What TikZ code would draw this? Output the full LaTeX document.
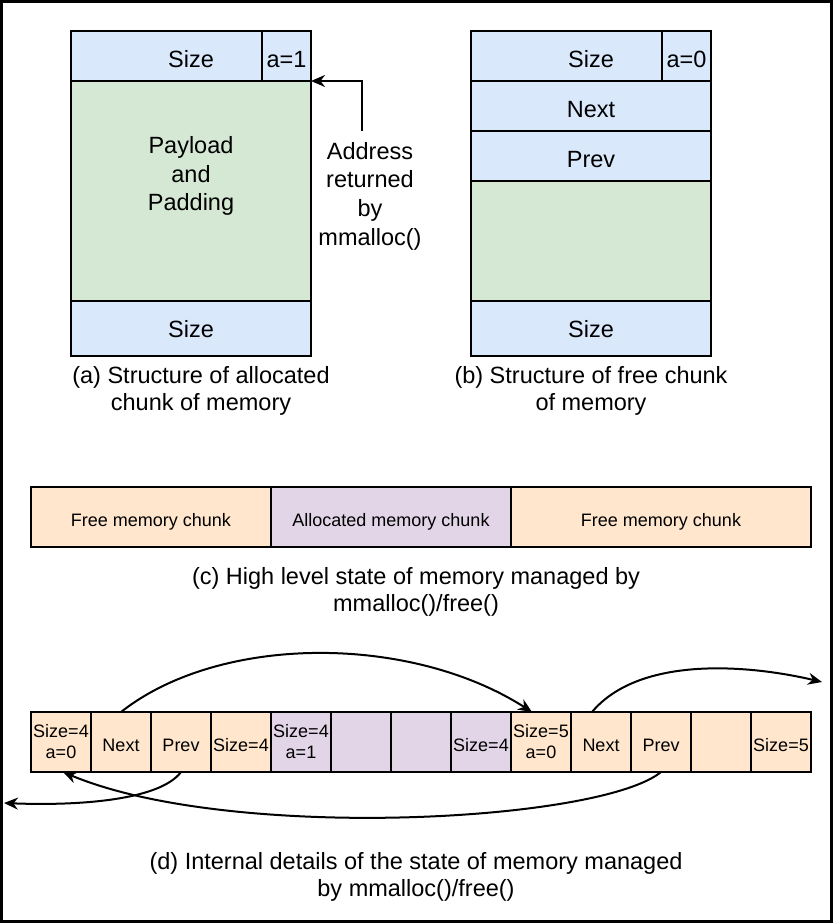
\documentclass[tikz,border=0pt]{standalone}
\usepackage{fontspec}
\setmainfont{Liberation Sans}
\usetikzlibrary{arrows.meta, positioning}
\definecolor{hdrblue}{HTML}{DAE8FC}
\definecolor{paygreen}{HTML}{D5E8D4}
\definecolor{freeorange}{HTML}{FFE6CC}
\definecolor{usedpurple}{HTML}{E1D5E7}

\begin{document}
\begin{tikzpicture}[x=1pt, y=1pt, >={Stealth[length=14pt,width=12pt]}, line width=2pt,
  box/.style={draw, line width=2.6pt, outer sep=0pt, inner sep=0pt, minimum width=240pt, minimum height=50pt, text height=23pt, text depth=0pt, font=\fontsize{23.5}{28.7}\selectfont},
  flag/.style={box, minimum width=49pt, anchor=north east},
  footbox/.style={box, minimum height=55pt, text height=18pt},
  chunk/.style={draw, line width=2.6pt, outer sep=0pt, inner sep=0pt, minimum height=60pt, text height=19pt, text depth=0pt, font=\fontsize{18}{21}\selectfont},
  cell/.style={chunk, minimum width=60pt},
  twoline/.style={cell, align=center, text height=, text depth=},
  caption/.style={align=center, inner sep=0pt, font=\fontsize{23.5}{27}\selectfont}]
  \useasboundingbox (0,0) rectangle (833,-923);
  \draw[line width=3pt] (1.5,-1.5) rectangle (831.5,-921.5);

% (a) allocated chunk
  \node[box, fill=hdrblue] (asize) at (191,-56) {Size};
  \node[flag, fill=hdrblue] (aflag) at (asize.north east) {a=1};
  \node[box, fill=paygreen, minimum height=220pt, below=0pt of asize] (apay) {};
  \node[footbox, fill=hdrblue, below=0pt of apay] (afoot) {Size};
  \node[caption, font=\fontsize{23.5}{28.7}\selectfont] (apaytext) at (191,-176) {Payload\\and\\Padding};
  \node[caption, font=\fontsize{23.5}{28.7}\selectfont] (addr) at (370,-196) {Address\\returned\\by\\mmalloc()};
  \coordinate (addrtop) at (361.5,-131);
  \node[caption] (acap) at (201,-391) {(a) Structure of allocated\\chunk of memory};

% (b) free chunk
  \node[box, fill=hdrblue] (bsize) at (591,-56) {Size};
  \node[flag, fill=hdrblue] (bflag) at (bsize.north east) {a=0};
  \node[box, fill=hdrblue, below=0pt of bsize] (bnext) {Next};
  \node[box, fill=hdrblue, below=0pt of bnext] (bprev) {Prev};
  \node[box, fill=paygreen, minimum height=120pt, below=0pt of bprev] (bpay) {};
  \node[footbox, fill=hdrblue, below=0pt of bpay] (bfoot) {Size};
  \node[caption] (bcap) at (591,-391) {(b) Structure of free chunk\\of memory};

  \draw[->] (addrtop) |- (apay.north east);

% (c) high level state
  \node[chunk, fill=freeorange, minimum width=240pt, anchor=west] (cfree1) at (31,-517) {Free memory chunk};
  \node[chunk, fill=usedpurple, minimum width=240pt, right=0pt of cfree1] (cused) {Allocated memory chunk};
  \node[chunk, fill=freeorange, minimum width=300pt, right=0pt of cused] (cfree2) {Free memory chunk};
  \node[caption] (ccap) at (416,-592) {(c) High level state of memory managed by\\mmalloc()/free()};

% (d) internal details
  \node[twoline, fill=freeorange] (hdra) at (61,-742) {Size=4\\a=0};
  \node[cell, fill=freeorange, right=0pt of hdra] (nexta) {Next};
  \node[cell, fill=freeorange, right=0pt of nexta] (preva) {Prev};
  \node[cell, fill=freeorange, right=0pt of preva] (foota) {Size=4};
  \node[twoline, fill=usedpurple, right=0pt of foota] (hdrb) {Size=4\\a=1};
  \node[cell, fill=usedpurple, right=0pt of hdrb] (payb) {};
  \node[cell, fill=usedpurple, right=0pt of payb] (padb) {};
  \node[cell, fill=usedpurple, right=0pt of padb] (footb) {Size=4};
  \node[twoline, fill=freeorange, right=0pt of footb] (hdrc) {Size=5\\a=0};
  \node[cell, fill=freeorange, right=0pt of hdrc] (nextc) {Next};
  \node[cell, fill=freeorange, right=0pt of nextc] (prevc) {Prev};
  \node[cell, fill=freeorange, right=0pt of prevc] (emptyc) {};
  \node[cell, fill=freeorange, right=0pt of emptyc] (footc) {Size=5};
  \node[caption] (dcap) at (416,-877) {(d) Internal details of the state of memory managed\\by mmalloc()/free()};

  \coordinate (nextout) at (822,-682);
  \coordinate (prevout) at (4,-803);

% the free list links
  \draw[->] (nexta.north) .. controls +(99,78) and +(-122,78) .. ([xshift=-9pt]hdrc.north);
  \draw[->] ([xshift=-9pt]nextc.north) .. controls +(48,57) and +(-72,17) .. (nextout);
  \draw[->] (preva.south) .. controls +(-21,-28) and +(76,-3) .. (prevout);
  \draw[->] (prevc.south) .. controls +(-61,-50) and +(167,-70) .. ([xshift=2pt]hdra.south);
\end{tikzpicture}
\end{document}
